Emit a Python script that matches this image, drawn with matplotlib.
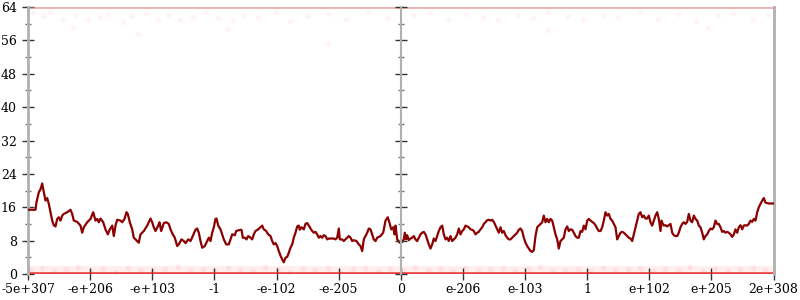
import numpy as np
import matplotlib
matplotlib.use("Agg")
import matplotlib.pyplot as plt
from matplotlib.ticker import MultipleLocator

# tick labels along the bottom (equally spaced)
x_labels = ["-5e+307", "-e+206", "-e+103", "-1", "-e-102", "-e-205", "0",
            "e-206", "e-103", "1", "e+102", "e+205", "2e+308"]
x_span = 745.5

# main trace: sample position and level
sample_t = [0, 7.5, 8.5, 10.8, 12.5, 14.2, 15.8, 17.5, 19.2, 20.8, 22.5, 24.2, 25.8, 27.5,
            29.2, 30.8, 32.5, 34.2, 35.8, 39.2, 42.5, 44.2, 45.8, 49.2, 52.5, 54.2, 55.8,
            59.2, 62.5, 65.2, 67.5, 69.2, 70.8, 72.5, 75.2, 77.5, 79.8, 81.8, 84.2, 85.8,
            87.5, 89.2, 92.5, 94.2, 96.5, 98.5, 99.8, 101.8, 104.2, 105.8, 109.2, 110.8,
            112.5, 115.8, 119.2, 122.5,
            124.2, 125.8, 127.5, 130.2, 131.5, 133.2, 135.8, 138.2, 140.8, 142.5, 144.8,
            146.8, 149.2, 150.8, 153.5, 155.8, 157.5, 160.2, 162.5, 164.8, 167.5, 169.2,
            170.8, 172.5, 174.2, 176.8, 179.2, 180.8, 182.5, 184.2, 185.8, 187.5, 188.5,
            190.2, 192.5, 194.2, 195.8, 198.2, 200.8, 202.5, 204.2, 206.8, 208.2, 210.8,
            213.5, 214.8, 216.8, 218.5, 220.2, 222.5, 224.2, 225.8, 227.5, 230.2, 232.5,
            234.2, 235.8, 238.2, 240.2, 242.5,
            244.2, 245.8, 247.5, 249.2, 250.8, 252.5, 254.2, 255.8, 257.5, 259.2, 260.8,
            262.5, 264.2, 265.8, 267.5, 269.2, 270.8, 271.8, 273.5, 275.8, 277.5, 279.2,
            280.8, 282.5, 284.2, 285.8, 287.5, 289.2, 290.8, 292.5, 294.2, 295.8, 297.5,
            299.2, 300.8, 302.5, 305.8, 307.5, 309.2, 310.8, 311.8, 314.2, 315.8, 317.5,
            319.2, 320.8, 322.5, 324.2, 325.8, 328.5, 330.8, 332.5, 334.2, 335.8, 337.5,
            339.2, 340.8, 342.5, 344.2, 345.8, 347.5, 349.2, 352.5, 355.2, 357.5, 359.8,
            361.8, 363.2, 365.2, 366.5, 367.5, 369.2, 371.8,
            374.2, 375.8, 376.8, 378.2, 379.2, 380.8, 382.5, 384.2, 385.8, 387.5, 389.2,
            390.8, 392.5, 394.2, 395.8, 397.5, 399.2, 400.8, 402.5, 404.2, 405.8, 407.5,
            409.2, 410.8, 412.5, 414.2, 415.8, 417.5, 419.2, 420.8, 422.5, 424.2, 425.8,
            427.5, 429.2, 430.8, 432.5, 434.2, 435.8, 437.5, 439.2, 440.8, 442.5, 444.2,
            445.8, 447.5, 449.2, 450.8, 452.5, 454.2, 455.8, 457.5, 459.2, 460.8, 462.5,
            464.2, 465.8, 467.5, 469.2, 470.8, 472.5, 474.2, 475.8, 477.5, 479.2, 480.8,
            482.5, 484.2, 485.8, 487.5, 489.2, 490.8, 492.5, 494.2,
            495.8, 497.5, 499.2, 500.8, 502.5, 504.2, 505.8, 507.5, 509.2, 510.8, 512.5,
            514.2, 515.8, 517.5, 519.2, 520.8, 522.5, 524.2, 525.8, 527.5, 529.2, 530.8,
            532.5, 534.2, 535.8, 537.5, 539.2, 540.8, 542.5, 544.2, 545.8, 547.5, 549.2,
            550.8, 552.5, 554.2, 555.8, 557.5, 559.2, 560.8, 562.5, 564.2, 565.8, 567.5,
            569.2, 570.8, 572.5, 574.2, 575.8, 577.5, 579.2, 580.8, 582.5, 584.2, 585.8,
            587.5, 589.2, 590.8, 592.5, 594.2, 595.8, 597.5, 599.2, 600.8, 602.5, 604.2,
            605.8, 607.5, 609.2, 610.8, 612.5, 614.2, 615.8, 617.5,
            619.2, 620.8, 622.5, 624.2, 625.8, 627.5, 629.2, 630.8, 632.5, 633.5, 634.8,
            635.8, 637.5, 639.2, 640.8, 642.5, 644.2, 645.8, 647.5, 649.2, 650.8, 652.5,
            654.2, 655.8, 657.5, 659.2, 660.8, 662.5, 664.2, 665.8, 667.5, 669.2, 670.8,
            672.5, 674.2, 675.8, 677.5, 679.2, 680.8, 682.5, 684.2, 685.8, 687.5, 689.2,
            690.8, 692.5, 694.2, 695.8, 697.5, 699.2, 700.8, 702.5, 704.2, 705.8, 707.5,
            709.2, 710.8, 712.5, 714.2, 715.8, 717.5, 719.2, 720.8, 722.5, 724.2, 725.8,
            727.5, 729.2, 730.8, 732.5, 734.2, 735.8, 737.5, 739.2, 740.8, 745.2]
level = [15.4, 15.4, 17.2, 19.6, 20.3, 21.7, 19.6, 17.6, 18.2, 16.8, 14.8, 12.8, 11.7, 11.4,
         13.2, 13.6, 12.8, 14.0, 14.4, 14.8, 15.4, 14.4, 12.8, 12.5, 11.6, 9.9, 11.2,
         12.4, 13.2, 14.8, 12.8, 13.2, 12.4, 13.3, 12.4, 10.7, 9.5, 10.7, 11.6, 9.1,
         11.6, 13.0, 12.8, 12.4, 13.2, 14.8, 14.4, 12.4, 10.7, 8.7, 7.9, 7.5,
         9.5, 10.3, 11.6, 13.3,
         12.4, 11.2, 10.3, 11.6, 12.4, 10.3, 12.2, 12.4, 12.0, 10.7, 9.5,
         8.7, 6.7, 7.1, 8.3, 7.9, 7.4, 8.3, 7.9, 9.1, 10.6, 10.9,
         9.9, 7.9, 6.3, 6.7, 7.9, 8.7, 7.9, 9.9, 11.2, 13.2, 13.3,
         11.6, 10.7, 9.5, 8.3, 7.1, 7.1, 8.3, 9.5, 9.3, 10.3, 10.5,
         10.6, 8.7, 8.7, 8.3, 9.1, 8.7, 8.3, 9.5, 10.3, 10.7, 11.2,
         11.6, 10.7, 10.3, 9.5, 9.1,
         7.9, 7.1, 7.4, 6.7, 5.5, 4.4, 3.5, 2.8, 3.9, 4.1, 5.1,
         6.3, 7.1, 8.7, 9.9, 11.4, 11.6, 10.6, 11.2, 10.7, 12.0, 12.2,
         11.6, 10.9, 10.3, 9.9, 10.1, 9.5, 8.7, 9.1, 8.7, 9.3, 9.1,
         8.3, 8.5, 8.5, 8.5, 8.3, 8.7, 10.9, 8.3, 8.3, 7.9, 8.3,
         8.7, 9.1, 8.7, 7.9, 8.1, 7.9, 7.1, 6.7, 5.5, 8.3, 9.1,
         9.9, 10.9, 10.7, 9.5, 8.3, 7.9, 8.7, 9.1, 9.9, 12.8, 13.6,
         12.0, 10.7, 11.2, 9.5, 11.6, 8.3, 7.5,
         7.7, 8.3, 9.9, 8.3, 9.3, 8.1, 8.5, 8.7, 9.1, 8.3, 7.9,
         8.7, 9.5, 9.9, 10.1, 9.5, 8.3, 7.1, 6.1, 7.1, 8.5, 7.9,
         9.1, 10.3, 11.2, 11.6, 9.5, 8.3, 8.7, 7.9, 9.1, 7.9, 8.3,
         8.7, 9.5, 10.9, 9.5, 10.3, 10.7, 11.6, 11.4, 11.2, 10.7, 10.6,
         10.3, 9.5, 9.9, 10.1, 10.7, 11.2, 12.0, 12.4, 12.9, 13.0, 12.8,
         13.0, 12.5, 11.6, 10.7, 9.9, 11.2, 9.9, 10.3, 9.3, 8.7, 8.3,
         8.3, 8.7, 9.1, 9.5, 9.9, 10.6, 10.9, 10.3,
         8.7, 7.5, 6.7, 6.1, 5.5, 5.3, 5.7, 9.1, 11.2, 11.6, 12.0,
         12.4, 14.0, 12.4, 13.2, 12.4, 13.2, 12.8, 11.2, 9.5, 8.3, 6.1,
         7.9, 8.3, 8.7, 10.7, 11.4, 10.3, 10.7, 10.6, 9.9, 9.1, 8.7,
         8.7, 10.3, 10.1, 11.6, 10.7, 12.8, 13.2, 12.8, 12.5, 12.2, 11.7,
         10.9, 10.3, 10.3, 11.2, 12.8, 14.8, 14.0, 14.4, 13.2, 12.8, 12.0,
         11.2, 8.3, 9.1, 9.9, 10.1, 9.9, 9.5, 9.1, 8.7, 8.5, 7.9,
         9.5, 11.2, 12.8, 14.4, 14.8, 13.6, 14.0, 13.3,
         13.3, 14.0, 12.4, 11.6, 12.8, 14.0, 14.8, 13.2, 10.3, 12.8, 12.0,
         11.6, 11.7, 11.4, 11.7, 12.0, 9.9, 9.3, 9.1, 9.1, 9.9, 11.2,
         12.0, 12.4, 12.0, 12.5, 14.4, 12.8, 12.4, 14.0, 13.2, 12.8, 11.6,
         11.2, 9.9, 8.3, 9.1, 9.5, 10.3, 10.9, 10.7, 11.2, 12.8, 12.0,
         12.0, 11.2, 10.1, 10.3, 9.9, 10.1, 9.9, 9.5, 8.9, 9.5, 10.7,
         9.9, 11.2, 11.7, 10.7, 11.6, 11.7, 11.6, 12.0, 12.8, 12.5, 13.2,
         12.8, 14.8, 16.0, 16.8, 17.6, 18.2, 17.1, 17.0, 16.9, 16.9]

# faint outlier samples near the top and bottom of the range
top_t = [5, 15, 22, 35, 48, 60, 72, 80, 95, 104, 118, 130, 140, 152, 165, 178, 190, 205,
         215, 230, 248, 262, 280, 300, 318, 340, 360, 385, 402, 420, 438, 455, 470, 490,
         505, 520, 540, 555, 575, 590, 612, 630, 650, 668, 690, 705, 725, 740, 45, 110,
         200, 300, 520, 680]
top_v = [62.5, 61.8, 62.8, 61.2, 62.0, 60.8, 61.6, 62.4, 60.5, 61.9, 62.6, 61.0, 62.2,
         60.9, 61.7, 62.8, 61.3, 60.6, 62.1, 61.5, 62.7, 60.7, 61.8, 62.3, 61.1, 62.9,
         61.4, 62.2, 62.6, 61.0, 62.4, 61.6, 60.8, 62.0, 61.3, 62.7, 61.8, 60.9, 62.2,
         61.5, 62.9, 61.1, 62.4, 60.7, 61.9, 62.5, 61.2, 62.1, 59.2, 57.5, 58.8, 55.3,
         58.4, 59.0]
bottom_t = [3, 14, 26, 38, 50, 63, 75, 88, 100, 112, 125, 137, 150, 162, 175, 187, 200,
            212, 225, 237, 250, 262, 275, 287, 300, 312, 325, 337, 350, 362, 375, 387,
            400, 412, 425, 437, 450, 462, 475, 487, 500, 512, 525, 537, 550, 562, 575,
            587, 600, 612, 625, 637, 650, 662, 675, 687, 700, 712, 725, 737]
bottom_v = [0.9, 1.4, 0.6, 1.1, 1.6, 0.8, 1.2, 0.5, 1.5, 1.0, 0.7, 1.3, 1.7, 0.9, 1.1,
            0.6, 1.4, 1.0, 0.8, 1.6, 1.2, 0.5, 1.3, 0.9, 1.5, 0.7, 1.1, 1.4, 0.8, 1.2,
            0.6, 1.6, 1.0, 1.3, 0.7, 1.5, 0.9, 1.1, 1.4, 0.6, 1.2, 1.6, 0.8, 1.0, 1.3,
            0.7, 1.5, 0.9, 1.1, 1.4, 0.6, 1.2, 1.0, 1.6, 0.8, 1.3, 0.7, 1.1, 1.5, 0.9]

fig = plt.figure(figsize=(8, 3), dpi=100)
ax = fig.add_axes([28 / 800, 26 / 300, 745.5 / 800, 267 / 300])

# faint clouds and clip lines
ax.scatter(top_t, top_v, s=14, color="#ff4040", alpha=0.06, linewidths=0)
ax.fill_between([0, x_span], 0, 1.8, color="#ff6060", alpha=0.10, lw=0, zorder=1)
ax.scatter(bottom_t, bottom_v, s=16, color="#ff3030", alpha=0.08, linewidths=0)
ax.axhline(0, color="#e52222", lw=2.6, alpha=0.85, zorder=2)
ax.axhline(64, color="#d88080", lw=2.0, alpha=0.6, zorder=2)

ax.plot(sample_t, level, color="#8b0000", lw=1.6, zorder=3)

ax.set_xlim(0, x_span)
ax.set_ylim(0, 64)
ax.set_xticks(np.linspace(0, x_span, len(x_labels)))
ax.set_xticklabels(x_labels)
ax.yaxis.set_major_locator(MultipleLocator(8))
ax.yaxis.set_minor_locator(MultipleLocator(4))
ax.yaxis.set_ticks_position("both")

for side in ["left", "right"]:
    ax.spines[side].set_color("#b0b0b0")
    ax.spines[side].set_linewidth(2)
ax.spines["top"].set_visible(False)
ax.spines["bottom"].set_visible(False)

ax.tick_params(axis="y", which="major", direction="inout", length=9, width=1, color="#333333")
ax.tick_params(axis="y", which="minor", direction="inout", length=5, width=1, color="#777777")
ax.tick_params(axis="x", direction="inout", length=9, width=1, color="#333333", pad=2)
ax.tick_params(labelsize=9)
for lab in ax.get_xticklabels() + ax.get_yticklabels():
    lab.set_family("DejaVu Serif")

# center divider with its own ticks
ax2 = ax.twinx()
ax2.set_ylim(0, 64)
for side in ["left", "top", "bottom"]:
    ax2.spines[side].set_visible(False)
ax2.spines["right"].set_position(("axes", 0.5))
ax2.spines["right"].set_color("#b0b0b0")
ax2.spines["right"].set_linewidth(1.5)
ax2.yaxis.set_major_locator(MultipleLocator(8))
ax2.yaxis.set_minor_locator(MultipleLocator(4))
ax2.tick_params(axis="y", which="major", direction="inout", length=9, width=1,
                color="#333333", labelright=False)
ax2.tick_params(axis="y", which="minor", direction="inout", length=5, width=1,
                color="#777777")

plt.savefig("out.png", dpi=100)
